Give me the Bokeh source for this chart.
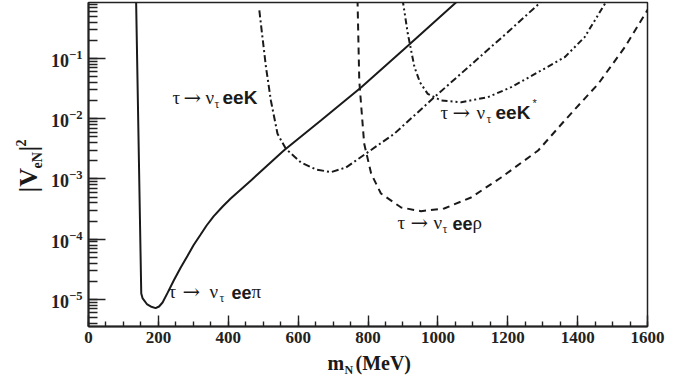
import math
from bokeh.plotting import figure
from bokeh.layouts import row, column
from bokeh.models import Range1d, FixedTicker, LogTicker, LogTickFormatter, Label
from bokeh.embed import file_html
from bokeh.resources import INLINE

# ---- data (m_N in MeV, |V_eN|^2) ----
pi_m = [136, 151, 155, 168, 178, 192, 202, 212, 227, 244, 264, 284, 301, 321,
        338, 358, 384, 407, 465, 559, 665, 780, 915, 1055, 1064]
pi_v = [1.11, 1.26e-5, 1.04e-5, 8.26e-6, 7.65e-6, 7.18e-6, 7.65e-6, 8.91e-6,
        1.31e-5, 2.07e-5, 3.40e-5, 5.37e-5, 8.03e-5, 1.20e-4, 1.69e-4, 2.39e-4,
        3.50e-4, 4.75e-4, 9.44e-4, 2.97e-3, 9.35e-3, 0.0330, 0.164, 0.883, 0.99]

k_m = [489, 499, 508, 522, 541, 565, 608, 651, 694, 737, 774, 875, 990, 1115,
       1199, 1290, 1299]
k_v = [0.627, 0.199, 0.0718, 0.0201, 5.62e-3, 3.17e-3, 1.88e-3, 1.44e-3,
       1.30e-3, 1.55e-3, 2.19e-3, 5.62e-3, 0.0228, 0.100, 0.270, 0.818, 0.918]

rho_m = [770, 775, 780, 789, 809, 837, 895, 952, 1018, 1095, 1181, 1287, 1363,
         1459, 1535, 1602]
rho_v = [0.95, 0.0431, 0.0179, 3.88e-3, 1.23e-3, 5.74e-4, 3.36e-4, 2.92e-4,
         3.24e-4, 4.93e-4, 1.06e-3, 2.97e-3, 9.35e-3, 0.038, 0.154, 0.668]

ks_m = [899, 914, 933, 949, 971, 1009, 1067, 1143, 1210, 1287, 1363, 1420,
        1478, 1482]
ks_v = [0.95, 0.257, 0.0718, 0.040, 0.0259, 0.0201, 0.0188, 0.0228, 0.0334,
        0.0593, 0.105, 0.226, 0.809, 0.918]

x_ticks = [0, 200, 400, 600, 800, 1000, 1200, 1400, 1600]
x_minor = list(range(0, 1601, 50))

ink = "#1a1a1a"
SER, SAN, SYM = "Liberation Serif", "Liberation Sans", "DejaVu Serif"

YW = 48                   # width of the strip holding the y-axis title
MH = 350                  # height of the main figure (x-title strip below it)
FL, FT, FB = 88, 2, 326   # main frame left / top / bottom in page px

# ---- main figure ----
p = figure(width=689 - YW, height=MH, y_axis_type="log",
           x_range=Range1d(0, 1600), y_range=Range1d(3.56e-6, 0.85),
           output_backend="svg", toolbar_location=None)
p.min_border_left = FL - YW
p.min_border_right = 42
p.min_border_top = FT
p.min_border_bottom = MH - FB
p.background_fill_color = "white"
p.border_fill_color = "white"
p.outline_line_color = "#222222"
p.outline_line_width = 1.5
p.xgrid.visible = False
p.ygrid.visible = False

p.line(pi_m, pi_v, line_color=ink, line_width=2)
p.line(k_m, k_v, line_color=ink, line_width=2, line_dash="7 3 2 3")
p.line(rho_m, rho_v, line_color=ink, line_width=2, line_dash="7 5")
p.line(ks_m, ks_v, line_color=ink, line_width=2, line_dash="6 3 2 3 2 3")

for ax in (p.xaxis[0], p.yaxis[0]):
    ax.axis_line_width = 2
    ax.axis_line_color = "#222222"
    ax.major_tick_line_color = "#222222"
    ax.minor_tick_line_color = "#222222"
    ax.major_tick_line_width = 1.4
    ax.minor_tick_line_width = 1.4
    ax.major_tick_out = 0
    ax.minor_tick_out = 0
    ax.major_label_text_font = SER
    ax.major_label_text_font_style = "bold"
    ax.major_label_text_color = "#222222"

p.xaxis.ticker = FixedTicker(ticks=x_ticks, minor_ticks=x_minor)
p.xaxis.major_tick_in = 11
p.xaxis.minor_tick_in = 5
p.xaxis.major_label_standoff = 5
p.xaxis.major_label_text_font_size = "17px"

p.yaxis.ticker = LogTicker(num_minor_ticks=10)
p.yaxis.formatter = LogTickFormatter()
p.yaxis.major_tick_in = 17
p.yaxis.minor_tick_in = 9
p.yaxis.major_label_standoff = 6
p.yaxis.major_label_text_font_size = "18px"

LIFT = 0.3  # the drawn baseline sits ~0.3 em below the anchor; compensate


def put(fig, ox, oy, text, cx, cy, size, font=SER, style="normal", angle=0.0):
    """Place text with its baseline start at page position (cx, cy);
    (ox, oy) is the page position of the figure's frame bottom-left."""
    if angle:
        cx = cx - LIFT * size
    else:
        cy = cy - LIFT * size
    fig.add_layout(Label(x=cx - ox, y=oy - cy, x_units="screen", y_units="screen",
                         text=text, text_font=font, text_font_size=f"{size}px",
                         text_font_style=style, text_color=ink,
                         text_baseline="alphabetic", text_align="left",
                         angle=angle))


def decay(base, xs, tail):
    put(p, FL, FB, "τ", xs[0], base, 19, SER)
    put(p, FL, FB, "→", xs[1], base + 1, 21, SYM)
    put(p, FL, FB, "ν", xs[2], base, 19, SER)
    put(p, FL, FB, "τ", xs[3], base + 4, 12, SER)
    for txt, xx, dy, sz, fnt, sty in tail:
        put(p, FL, FB, txt, xx, base + dy, sz, fnt, sty)


decay(103, [172, 183, 205, 214], [("eeK", 222, 0, 19, SAN, "bold")])
decay(118, [440, 452, 476, 486], [("eeK", 495, 0, 19, SAN, "bold"),
                                  ("*", 532, -12, 11, SAN, "normal")])
decay(228, [397, 410, 433, 442], [("ee", 452, 0, 18, SAN, "bold"),
                                  ("ρ", 472, 0, 19, SER, "normal")])
decay(297, [168, 182, 209, 219], [("ee", 231, 0, 18, SAN, "bold"),
                                  ("π", 251, 0, 19, SER, "normal")])


def blank(w, h):
    f = figure(width=w, height=h, x_range=Range1d(0, w), y_range=Range1d(0, h),
               x_axis_location=None, y_axis_location=None,
               output_backend="svg", toolbar_location=None)
    f.min_border = 0
    f.min_border_left = f.min_border_right = 0
    f.min_border_top = f.min_border_bottom = 0
    f.outline_line_color = None
    f.xgrid.visible = False
    f.ygrid.visible = False
    f.background_fill_color = "white"
    f.border_fill_color = "white"
    return f


# ---- y axis title |V_eN|^2 (left strip) ----
ytf = blank(YW, 383)
r = math.pi / 2
put(ytf, 0, 383, "|V", 36, 192, 26, SER, "bold", r)
put(ytf, 0, 383, "eN", 41, 168, 14, SER, "bold", r)
put(ytf, 0, 383, "|", 36, 151, 26, SER, "bold", r)
put(ytf, 0, 383, "2", 25, 146, 14, SER, "bold", r)

# ---- x axis title m_N (MeV) (bottom strip; its frame lines up with the main frame) ----
xtf = blank(689 - YW, 383 - MH)
put(xtf, FL, 383, "m", 327, 368, 20, SER, "bold")
put(xtf, FL, 383, "N", 344, 373, 12, SER, "bold")
put(xtf, FL, 383, "(MeV)", 355, 368, 20, SER, "bold")

layout = row(ytf, column(p, xtf, spacing=0), spacing=0)
open("out.html", "w").write(file_html(layout, INLINE))
